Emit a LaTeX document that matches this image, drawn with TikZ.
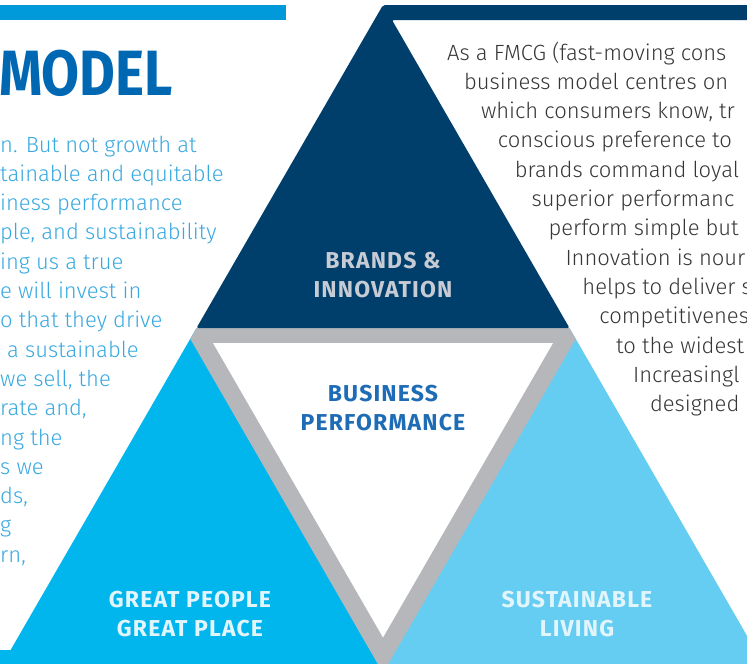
\documentclass[tikz,border=0pt]{standalone}
\usepackage{fontspec}
\setmainfont{Fira Sans}[UprightFont=* Light, BoldFont=* Bold]
\newfontfamily\tagfont{Fira Sans}[UprightFont=* Bold, LetterSpace=5]
\usetikzlibrary{positioning}
\definecolor{barblue}{HTML}{0099DA}
\definecolor{brandnavy}{HTML}{003E6B}
\definecolor{peoplecyan}{HTML}{00B6ED}
\definecolor{livingsky}{HTML}{66CDF2}
\definecolor{perfgray}{HTML}{B6B7BA}
\definecolor{titleblue}{HTML}{0068B3}
\definecolor{leftblue}{HTML}{38A9E0}
\definecolor{rightgray}{HTML}{363636}
\definecolor{perfblue}{HTML}{1E6CB6}
\definecolor{brandlabel}{HTML}{C6CBD4}
\definecolor{softwhite}{HTML}{E3F5FC}

\begin{document}
\begin{tikzpicture}[x=1pt, y=-1pt, every node/.style={inner sep=0pt},
    body/.style={anchor=base west, font=\fontsize{22}{29}\selectfont},
    tag/.style={font=\tagfont\fontsize{23}{29}\selectfont, text height=16pt, text depth=0pt}]
    \useasboundingbox (0,0) rectangle (747,664);
    \clip (0,0) rectangle (747,664);

    % bars and pyramid
    \fill[barblue] (-5,5) rectangle (286,20);
    \fill[peoplecyan] (196.5,328) -- (10.6,650) -- (-5,650) -- (-5,670) -- (383,670) -- (383,328) -- cycle;
    \fill[livingsky] (383,328) -- (569.5,328) -- (776,686) -- (383,686) -- cycle;
    \begin{scope}
        \clip (383,5) -- (-10,686) -- (776,686) -- cycle;
        \fill[perfgray] (184,328) -- (582,328) -- (383,673) -- cycle;
    \end{scope}
    \fill[white] (213,343) -- (553,343) -- (383,637.4) -- cycle;
    \fill[brandnavy, rounded corners=2pt] (383,5) -- (752,5) -- (752,20) -- (392,20) -- (569.5,328) -- (196.5,328) -- cycle;

    % labels
    \node[tag, text=brandlabel, anchor=base] (brands) at (383,268) {BRANDS \&};
    \node[tag, text=brandlabel, below=13pt of brands] (innovation) {INNOVATION};
    \node[tag, text=perfblue, anchor=base] (business) at (383,401) {BUSINESS};
    \node[tag, text=perfblue, below=13pt of business] (performance) {PERFORMANCE};
    \node[tag, text=softwhite, anchor=base] (people) at (190,607) {GREAT PEOPLE};
    \node[tag, text=softwhite, below=13pt of people] (place) {GREAT PLACE};
    \node[tag, text=softwhite, anchor=base] (sustainable) at (577,607) {SUSTAINABLE};
    \node[tag, text=softwhite, below=13pt of sustainable] (living) {LIVING};

    % title and text
    \node[anchor=base west, text=titleblue, font=\bfseries\fontsize{64}{64}\selectfont] (title) at (-1,95) {\scalebox{0.86}[1]{MODEL}};
    \foreach \txt [count=\i from 0] in {n. But not growth at, tainable and equitable, iness performance,
        {ple, and sustainability}, ing us a true, e will invest in, o that they drive,
        \hspace*{7pt}a sustainable, {we sell, the}, {rate and,}, ng the, s we, {ds,}, g, {rn,}}
        \node[body, text=leftblue] (left\i) at (0,{152+29.3*\i}) {\txt};
    \foreach \txt [count=\i from 0] in {{As a FMCG (fast-moving cons}, business model centres on,
        {which consumers know, tr}, conscious preference to, brands command loyal,
        superior performanc, perform simple but, Innovation is nour, helps to deliver s,
        competitivenes, to the widest, Increasingl, designed}
        \node[body, text=rightgray] (right\i) at ({447+16.9*\i},{60+29.3*\i}) {\txt};
\end{tikzpicture}
\end{document}
